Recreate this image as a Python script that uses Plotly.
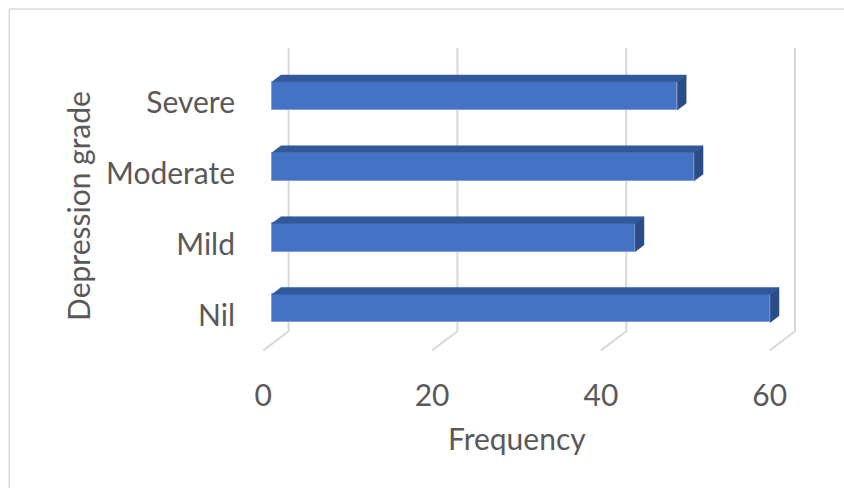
import plotly.graph_objects as go

# Depression grade frequencies
categories = ["Nil", "Mild", "Moderate", "Severe"]
frequency = [59, 43, 50, 48]
x_ticks = [0, 20, 40, 60]

# pseudo-3D projection (in axis units)
DEPTH_X = 3.0      # horizontal shift from front floor edge to back wall
DEPTH_Y = 0.27     # vertical shift from front floor edge to back wall
BAR_D0, BAR_D1 = 0.35, 0.70   # depth span of each bar
BAR_H = 0.40       # bar thickness

FRONT = "#4472C4"
TOP = "#31599A"
SIDE = "#2A4C88"
GRID = "#D9D9D9"
TEXT = "#595959"
FONT = "Lato"
FSIZE = 30

pos = list(range(len(categories)))
x0 = BAR_D0 * DEPTH_X
y_off = BAR_D0 * DEPTH_Y
ddx = (BAR_D1 - BAR_D0) * DEPTH_X
ddy = (BAR_D1 - BAR_D0) * DEPTH_Y

fig = go.Figure()

# front faces
fig.add_trace(go.Bar(
    y=[p + y_off for p in pos], x=frequency, base=x0, width=BAR_H,
    orientation="h", marker=dict(color=FRONT, line=dict(color="#7E9FDA", width=1)),
    hoverinfo="x", showlegend=False,
))

# top and side faces
for p, v in zip(pos, frequency):
    yc = p + y_off
    yt, yb = yc + BAR_H / 2, yc - BAR_H / 2
    xr = x0 + v
    fig.add_trace(go.Scatter(
        x=[x0, xr, xr + ddx, x0 + ddx, x0], y=[yt, yt, yt + ddy, yt + ddy, yt],
        fill="toself", fillcolor=TOP, mode="lines", line=dict(color=TOP, width=0.5),
        hoverinfo="skip", showlegend=False,
    ))
    fig.add_trace(go.Scatter(
        x=[xr, xr, xr + ddx, xr + ddx, xr], y=[yb, yt, yt + ddy, yb + ddy, yb],
        fill="toself", fillcolor=SIDE, mode="lines", line=dict(color=SIDE, width=0.5),
        hoverinfo="skip", showlegend=False,
    ))

# gridlines on back wall with floor diagonals
y_floor = pos[0] - 0.5
y_top = pos[-1] + 0.5 + DEPTH_Y
for t in x_ticks:
    xb = t + DEPTH_X
    fig.add_shape(
        type="path", xref="x", yref="y", layer="below",
        path=f"M {xb},{y_top} L {xb},{y_floor + DEPTH_Y} L {t},{y_floor}",
        line=dict(color=GRID, width=2),
    )

# chart frame
fig.add_shape(type="line", xref="paper", yref="paper", x0=-0.382, x1=-0.382,
              y0=-0.4, y1=1.1195, line=dict(color=GRID, width=1.5))
fig.add_shape(type="line", xref="paper", yref="paper", x0=-0.382, x1=1.0,
              y0=1.1195, y1=1.1195, line=dict(color=GRID, width=1.5))

# horizontal axis title, centred under the value range on the front plane
fig.add_annotation(
    x=(x_ticks[0] + x_ticks[-1]) / 2, xref="x", y=-0.23, yref="paper",
    text="Frequency", showarrow=False, yanchor="middle",
    font=dict(size=FSIZE, color=TEXT, family=FONT),
)

fig.update_layout(
    width=844, height=488,
    margin=dict(l=240, r=0, t=47, b=123),
    paper_bgcolor="white", plot_bgcolor="white",
    font=dict(family=FONT, color=TEXT, size=FSIZE),
    bargap=0,
    xaxis=dict(
        range=[-2.76, 68.80], tickvals=x_ticks, showgrid=False, zeroline=False,
        showline=False, ticks="", ticklabelstandoff=10,
        tickfont=dict(size=FSIZE, color=TEXT, family=FONT),
    ),
    yaxis=dict(
        range=[-0.706, 3.785], tickvals=pos, ticktext=categories, showgrid=False,
        zeroline=False, showline=False, ticks="", ticklabelstandoff=4,
        tickfont=dict(size=FSIZE, color=TEXT, family=FONT),
        title=dict(text="Depression grade", standoff=6, font=dict(size=FSIZE, color=TEXT, family=FONT)),
    ),
)

fig.write_html("out.html")
